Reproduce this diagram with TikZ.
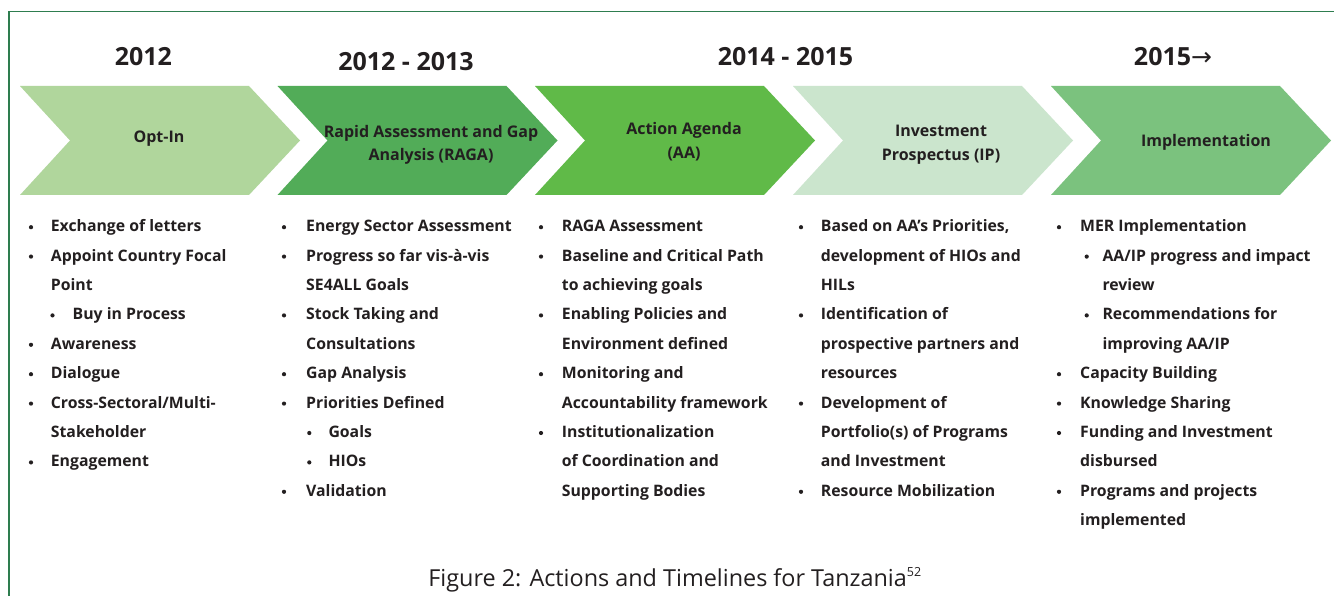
\documentclass[tikz,border=0pt]{standalone}
\usepackage{fontspec}
\setmainfont{Open Sans}
\newfontfamily\arrowfont{DejaVu Sans}
\definecolor{txt}{HTML}{231F20}
\definecolor{frm}{HTML}{2E7D4F}
\definecolor{cA}{HTML}{B0D69C}
\definecolor{cB}{HTML}{52AC58}
\definecolor{cC}{HTML}{60BA48}
\definecolor{cD}{HTML}{CBE5CD}
\definecolor{cE}{HTML}{7BC27E}
\tikzset{
  itm/.style={anchor=base west, inner sep=0pt, text=txt, font=\fontsize{15.8}{19}\bfseries},
  dot/.style={circle, fill=txt, inner sep=0pt, minimum size=4.2pt},
  yr/.style={anchor=base, inner sep=0pt, text=txt, font=\fontsize{25}{30}\bfseries},
  lab/.style={anchor=base, inner sep=0pt, text=txt, font=\fontsize{16}{20}\bfseries},
  captxt/.style={anchor=base, inner sep=0pt, text=txt, font=\fontsize{23.4}{28}\selectfont},
  frameline/.style={draw=frm, line width=1.3pt}
}
\newcommand\chev[2]{\fill[#2] (#1,86) -- ++(229,0) -- ++(51,54.5) -- ++(-51,54.5) -- ++(-229,0) -- ++(50,-54.5) -- cycle;}
\newcommand\mycol[6]{%
  \foreach \rowi/\kind/\words [count=\ii] in {#6}{%
    \pgfmathsetmacro\yy{231.7+29.4*\rowi}%
    \ifcase\kind\relax\or
      \node[dot] (#1d\ii) at (#2,\yy-4.5) {};
      \node[itm] (#1t\ii) at (#3,\yy) {\words};
    \or
      \node[itm] (#1t\ii) at (#3,\yy) {\words};
    \or
      \node[dot] (#1d\ii) at (#4,\yy-4.5) {};
      \node[itm] (#1t\ii) at (#5,\yy) {\words};
    \or
      \node[itm] (#1t\ii) at (#5,\yy) {\words};
    \fi}}
\begin{document}
\begin{tikzpicture}[x=1pt,y=-1pt]
\useasboundingbox (0,0) rectangle (1334,596);
\fill[white] (0,0) rectangle (1334,596);
\draw[frameline] (9,600) -- (9,11.5) -- (1340,11.5);
% chevrons
\chev{20}{cA}
\chev{277.5}{cB}
\chev{535}{cC}
\chev{793}{cD}
\chev{1051}{cE}
% years
\node[yr] (y1) at (143.3,66) {2012};
\node[yr] (y2) at (406,71) {2012 - 2013};
\node[yr] (y3) at (785.5,66) {2014 - 2015};
\node[yr] (y4) at (1173,66) {2015{\arrowfont\mdseries →}};
% chevron labels
\node[lab] (l1) at (159,142.3) {Opt-In};
\node[lab] (l2a) at (431,137.3) {Rapid Assessment and Gap};
\node[lab] (l2b) at (431,161) {Analysis (RAGA)};
\node[lab] (l3a) at (684,135) {Action Agenda};
\node[lab] (l3b) at (684,159) {(AA)};
\node[lab] (l4a) at (941,136.7) {Investment};
\node[lab] (l4b) at (941,161) {Prospectus (IP)};
\node[lab] (l5) at (1206,146.7) {Implementation};
% columns
\mycol{a}{31}{50.7}{52.5}{72.5}{0/1/{Exchange of letters}, 1/1/{Appoint Country Focal}, 2/2/{Point}, 3/3/{Buy in Process}, 4/1/{Awareness}, 5/1/{Dialogue}, 6/1/{Cross-Sectoral/Multi-}, 7/2/{Stakeholder}, 8/1/{Engagement}}
\mycol{b}{284}{306}{309.3}{328.3}{0/1/{Energy Sector Assessment}, 1/1/{Progress so far vis-à-vis}, 2/2/{SE4ALL Goals}, 3/1/{Stock Taking and}, 4/2/{Consultations}, 5/1/{Gap Analysis}, 6/1/{Priorities Defined}, 7/3/{Goals}, 8/3/{HIOs}, 9/1/{Validation}}
\mycol{c}{541}{561.7}{565}{585}{0/1/{RAGA Assessment}, 1/1/{Baseline and Critical Path}, 2/2/{to achieving goals}, 3/1/{Enabling Policies and}, 4/2/{Environment defined}, 5/1/{Monitoring and}, 6/2/{Accountability framework}, 7/1/{Institutionalization}, 8/2/{of Coordination and}, 9/2/{Supporting Bodies}}
\mycol{d}{801}{820.7}{825}{845}{0/1/{Based on AA’s Priorities,}, 1/2/{development of HIOs and}, 2/2/{HILs}, 3/1/{Identification of}, 4/2/{prospective partners and}, 5/2/{resources}, 6/1/{Development of}, 7/2/{Portfolio(s) of Programs}, 8/2/{and Investment}, 9/1/{Resource Mobilization}}
\mycol{e}{1059}{1080}{1086.7}{1102.3}{0/1/{MER Implementation}, 1/3/{AA/IP progress and impact}, 2/4/{review}, 3/3/{Recommendations for}, 4/4/{improving AA/IP}, 5/1/{Capacity Building}, 6/1/{Knowledge Sharing}, 7/1/{Funding and Investment}, 8/2/{disbursed}, 9/1/{Programs and projects}, 10/2/{implemented}}
% caption
\node[captxt] (caption) at (675,586) {Figure 2: Actions and Timelines for Tanzania\textsuperscript{\fontsize{12.5}{15}\selectfont 52}};
\end{tikzpicture}
\end{document}
